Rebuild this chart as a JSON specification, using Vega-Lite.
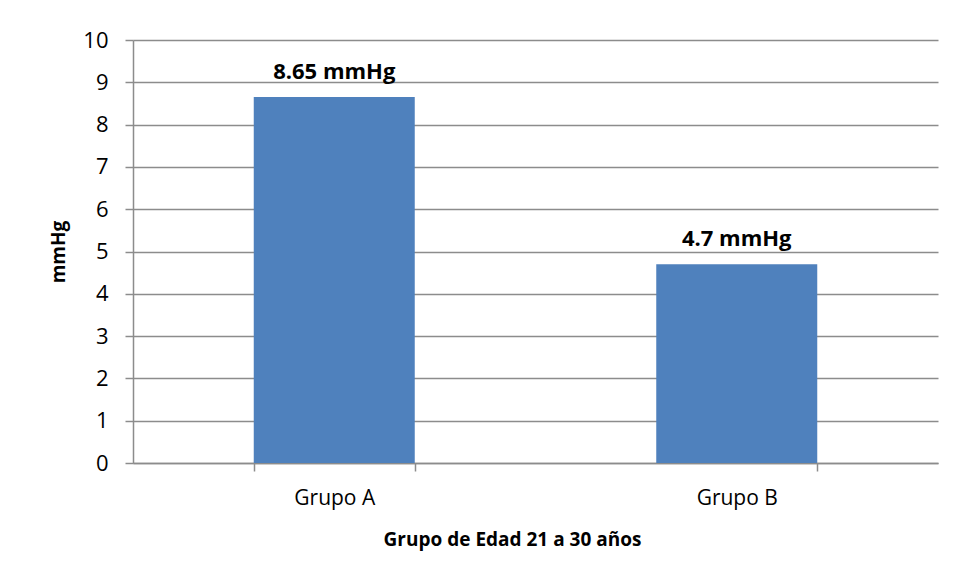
{
  "$schema": "https://vega.github.io/schema/vega-lite/v6.json",
  "autosize": "none",
  "width": 805,
  "height": 423,
  "padding": {"left": 133, "top": 40, "right": 18, "bottom": 117},
  "background": "white",
  "config": {
    "view": {"stroke": null},
    "font": "Open Sans",
    "axis": {"labelFont": "Open Sans", "titleFont": "Open Sans", "labelColor": "#000000", "titleColor": "#000000"}
  },
  "data": {"values": [
    {"grupo": "Grupo A", "valor": 8.65, "etiqueta": "8.65 mmHg"},
    {"grupo": "Grupo B", "valor": 4.7, "etiqueta": "4.7 mmHg"}
  ]},
  "encoding": {
    "x": {
      "field": "grupo", "type": "nominal",
      "scale": {"paddingInner": 0.6, "paddingOuter": 0.3},
      "axis": {
        "title": "Grupo de Edad 21 a 30 años",
        "titleFontSize": 19, "titleFontWeight": "bold", "titlePadding": 22, "titleX": 379,
        "labelAngle": 0, "labelFontSize": 21, "labelPadding": 16,
        "tickBand": "extent", "tickSize": 8, "tickColor": "#8c8c8c", "tickWidth": 1.5,
        "domainColor": "#8c8c8c", "domainWidth": 1.5, "grid": false
      }
    },
    "y": {
      "field": "valor", "type": "quantitative",
      "scale": {"domain": [0, 10], "nice": false},
      "axis": {
        "title": "mmHg", "titleFontSize": 19, "titleFontWeight": "bold", "titlePadding": 14,
        "values": [0, 1, 2, 3, 4, 5, 6, 7, 8, 9, 10],
        "labelFontSize": 22, "labelPadding": 17,
        "tickSize": 8, "tickColor": "#8c8c8c", "tickWidth": 1.5,
        "domainColor": "#8c8c8c", "domainWidth": 1.5,
        "grid": true, "gridColor": "#8c8c8c", "gridWidth": 1.5
      }
    }
  },
  "layer": [
    {"mark": {"type": "bar", "color": "#4F81BD"}},
    {
      "mark": {"type": "text", "fontSize": 22, "fontWeight": "bold", "baseline": "alphabetic", "dy": -18, "color": "#000000"},
      "encoding": {"text": {"field": "etiqueta"}}
    }
  ]
}
